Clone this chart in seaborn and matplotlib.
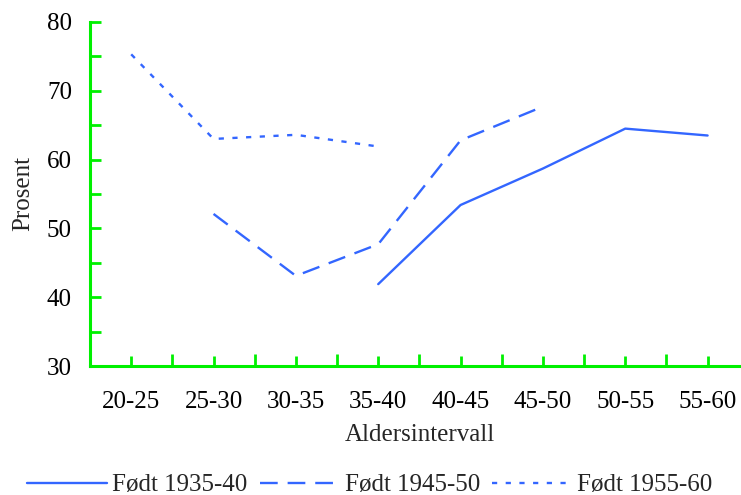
import numpy as np
import pandas as pd
import matplotlib
matplotlib.use("Agg")
import matplotlib.pyplot as plt
import seaborn as sns

AGE_GROUPS = ["20-25", "25-30", "30-35", "35-40", "40-45", "45-50", "50-55", "55-60"]

BORN_1935_40 = [np.nan, np.nan, np.nan, 41.9, 53.4, 58.7, 64.5, 63.5]
BORN_1945_50 = [np.nan, 52.1, 43.1, 47.7, 62.8, 67.7, np.nan, np.nan]
BORN_1955_60 = [75.3, 63.0, 63.6, 61.9, np.nan, np.nan, np.nan, np.nan]

SERIES_NAMES = ["Født 1935-40", "Født 1945-50", "Født 1955-60"]

LINE_COLOR = "#3366ff"
AXIS_COLOR = "#00f000"
FONT_SIZE = 18

sns.set_style("white")
plt.rcParams["font.family"] = ["Liberation Serif", "DejaVu Serif"]

rows = []
for name, values in zip(SERIES_NAMES, [BORN_1935_40, BORN_1945_50, BORN_1955_60]):
    for i, v in enumerate(values):
        if not np.isnan(v):
            rows.append({"pos": i, "Prosent": v, "Kohort": name})
df = pd.DataFrame(rows)

fig = plt.figure(figsize=(7.41, 4.95), dpi=100)
ax = fig.add_axes([0.1215, 0.2606, 0.889, 0.695])

styles = {
    "Født 1935-40": "-",
    "Født 1945-50": (0, (7.5, 4.2)),
    "Født 1955-60": (0, (2.2, 3.6)),
}
for name in SERIES_NAMES:
    sns.lineplot(data=df[df["Kohort"] == name], x="pos", y="Prosent", ax=ax,
                 color=LINE_COLOR, linewidth=1.7, linestyle=styles[name],
                 label=name, sort=False)

ax.set_xlim(-0.5, 7.5)
ax.set_ylim(30, 80)

for side in ["top", "right"]:
    ax.spines[side].set_visible(False)
for side in ["left", "bottom"]:
    ax.spines[side].set_color(AXIS_COLOR)
    ax.spines[side].set_linewidth(2.2)

ax.set_xticks(np.arange(0.5, 7.5, 1.0), labels=[""] * 7)
ax.set_xticks(range(len(AGE_GROUPS)), labels=AGE_GROUPS, minor=True)
ax.set_yticks(range(30, 81, 10))
ax.set_yticks(range(35, 80, 10), minor=True)

ax.tick_params(axis="both", which="both", direction="in", color=AXIS_COLOR,
               width=2, labelsize=FONT_SIZE, labelcolor="black",
               bottom=True, left=True, top=False, right=False)
ax.tick_params(axis="x", which="major", length=9)
ax.tick_params(axis="x", which="minor", length=7, pad=18)
ax.tick_params(axis="y", which="both", length=8, pad=13)

ax.set_xlabel("Aldersintervall", fontsize=FONT_SIZE, labelpad=8)
ax.set_ylabel("Prosent", fontsize=FONT_SIZE, labelpad=9)

ax.get_legend().remove()
handles, labels = ax.get_legend_handles_labels()
fig.legend(handles, labels, loc="center", bbox_to_anchor=(0.499, 0.02),
           ncol=3, frameon=False, fontsize=FONT_SIZE, handlelength=3.2,
           handletextpad=0.2, columnspacing=0.5, borderaxespad=0)

fig.savefig("out.png", dpi=100)
